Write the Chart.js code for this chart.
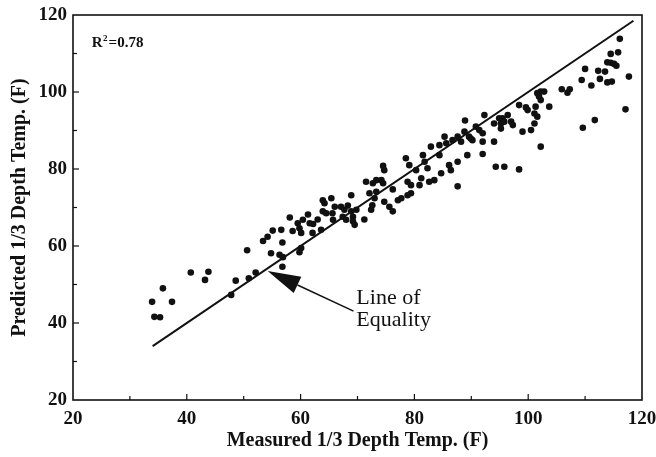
<!DOCTYPE html>
<html lang="en">
<head>
<meta charset="UTF-8">
<title>Predicted vs Measured 1/3 Depth Temperature</title>
<script src="https://cdn.jsdelivr.net/npm/chart.js"></script>
<style>
  html, body { margin: 0; padding: 0; background: #fff; }
  .chart-wrapper { width: 656px; height: 457px; }
</style>
</head>
<body>
<div class="chart-wrapper"><canvas id="tempChart"></canvas></div>
<script>
// measured vs predicted temperature at 1/3 depth (F)
const measured = [
  33.9, 35.8, 37.4, 34.3, 35.3, 40.7, 43.8, 43.2, 47.8, 48.6,
  50.9, 52.1, 50.6, 53.4, 54.2, 54.8, 56.8, 56.3, 56.9, 56.8,
  55.1, 56.6, 60.1, 59.8, 58.6, 60.1, 62.1, 58.1, 59.5, 59.8,
  60.4, 61.3, 61.6, 62.2, 63.0, 63.9, 64.2, 65.4, 63.9, 64.5,
  65.6, 66.0, 65.7, 63.6, 67.1, 67.7, 68.3, 68.9, 69.2, 69.8,
  68.9, 67.4, 68.0, 69.2, 69.5, 71.2, 71.5, 72.1, 73.3, 73.0,
  72.4, 72.7, 73.3, 74.2, 74.5, 74.5, 74.7, 72.6, 74.7, 75.6,
  76.2, 77.1, 77.7, 78.8, 79.4, 76.2, 78.8, 79.4, 78.5, 79.1,
  80.3, 81.2, 80.9, 81.5, 81.8, 82.9, 82.3, 82.6, 83.5, 84.4,
  84.7, 84.4, 85.3, 85.6, 86.1, 86.4, 86.7, 87.6, 88.2, 87.6,
  89.3, 87.6, 88.8, 89.6, 90.2, 88.9, 92.3, 90.8, 91.4, 92.0,
  89.9, 92.0, 94.0, 92.0, 94.0, 94.9, 95.2, 95.5, 95.8, 95.2,
  96.4, 97.0, 97.3, 98.4, 99.0, 100.5, 99.9, 99.6, 101.1, 101.3,
  101.6, 101.1, 101.6, 102.2, 101.9, 102.8, 102.2, 103.7, 102.2, 94.3,
  95.8, 98.4, 116.1, 114.5, 115.8, 113.9, 114.5, 115.1, 115.5, 110.0,
  112.3, 113.5, 112.6, 109.4, 111.1, 113.9, 114.7, 117.7, 105.9, 106.9,
  107.3, 117.1, 111.7, 109.6
];
const predicted = [
  45.5, 49.0, 45.5, 41.6, 41.5, 53.1, 53.3, 51.2, 47.3, 51.0,
  51.6, 53.1, 58.9, 61.3, 62.4, 58.1, 60.9, 57.7, 57.1, 54.6,
  64.0, 64.2, 59.5, 58.4, 63.9, 63.4, 63.4, 67.4, 65.9, 64.6,
  66.8, 68.2, 65.9, 65.7, 66.9, 71.9, 71.1, 72.4, 69.0, 68.5,
  68.5, 70.2, 66.8, 64.2, 70.2, 69.4, 70.5, 69.0, 67.6, 69.4,
  73.2, 67.6, 66.8, 66.4, 65.5, 66.9, 76.7, 73.7, 74.1, 72.4,
  69.4, 76.3, 77.1, 77.1, 76.3, 80.8, 79.7, 70.6, 71.5, 70.2,
  69.0, 71.9, 72.4, 73.2, 73.7, 74.7, 76.7, 75.8, 82.8, 81.0,
  79.7, 77.6, 75.8, 83.6, 81.9, 85.8, 80.2, 76.7, 77.1, 83.6,
  78.9, 86.2, 88.4, 86.7, 81.0, 79.7, 87.5, 88.4, 87.1, 81.9,
  83.6, 75.5, 89.7, 88.4, 87.5, 92.6, 94.0, 91.0, 90.1, 89.3,
  87.9, 87.1, 87.1, 83.9, 91.8, 93.2, 91.8, 93.2, 92.3, 90.5,
  94.0, 92.3, 91.4, 96.6, 89.7, 90.1, 95.3, 96.0, 94.4, 96.2,
  93.6, 91.8, 99.7, 100.1, 98.8, 100.1, 97.9, 96.2, 85.8, 80.6,
  80.6, 79.9, 113.8, 109.9, 110.3, 107.7, 107.6, 107.3, 106.8, 106.0,
  105.5, 105.3, 103.4, 103.1, 101.7, 102.5, 102.7, 104.0, 100.7, 99.8,
  100.7, 95.5, 92.7, 90.7
];

// line of equality end points (x = y)
const equalityLine = [34, 118.5];

const axisMin = 20;
const axisMax = 120;
const labelStep = 20;
const tickStep = 10;

const equalityLabel = ['Line of', 'Equality'];

const serif = '"Liberation Serif", "Times New Roman", serif';

// frame, inward tick marks and the text/arrow notes
const notesPlugin = {
  id: 'notes',
  afterDatasetsDraw(chart) {
    const { ctx, chartArea: a, scales: { x, y } } = chart;
    ctx.save();
    ctx.strokeStyle = '#111';
    ctx.lineWidth = 1.6;
    ctx.strokeRect(a.left, a.top, a.right - a.left, a.bottom - a.top);

    ctx.lineWidth = 1.2;
    for (let v = axisMin + tickStep; v < axisMax; v += tickStep) {
      const len = v % labelStep === 0 ? 6 : 4;
      const px = x.getPixelForValue(v);
      ctx.beginPath();
      ctx.moveTo(px, a.bottom);
      ctx.lineTo(px, a.bottom - len);
      ctx.stroke();
      const py = y.getPixelForValue(v);
      ctx.beginPath();
      ctx.moveTo(a.left, py);
      ctx.lineTo(a.left + len, py);
      ctx.stroke();
    }

    // R squared
    ctx.fillStyle = '#111';
    ctx.font = 'bold 15px ' + serif;
    ctx.textBaseline = 'alphabetic';
    ctx.textAlign = 'left';
    const rx = x.getPixelForValue(23.3);
    const ry = y.getPixelForValue(111.8);
    ctx.fillText('R', rx, ry);
    const rw = ctx.measureText('R').width;
    ctx.font = 'bold 9px ' + serif;
    ctx.fillText('2', rx + rw + 0.5, ry - 6);
    ctx.font = 'bold 15px ' + serif;
    ctx.fillText('=0.78', rx + rw + 6, ry);

    // arrow pointing at the equality line
    const tipX = x.getPixelForValue(54.2), tipY = y.getPixelForValue(53.5);
    const tailX = x.getPixelForValue(69.3), tailY = y.getPixelForValue(43.1);
    const ang = Math.atan2(tailY - tipY, tailX - tipX);
    const headLen = 33, headHalf = 9;
    const bx = tipX + Math.cos(ang) * headLen, by = tipY + Math.sin(ang) * headLen;
    ctx.lineWidth = 1.5;
    ctx.beginPath();
    ctx.moveTo(bx, by);
    ctx.lineTo(tailX, tailY);
    ctx.stroke();
    ctx.beginPath();
    ctx.moveTo(tipX, tipY);
    ctx.lineTo(bx - Math.sin(ang) * headHalf, by + Math.cos(ang) * headHalf);
    ctx.lineTo(bx + Math.sin(ang) * headHalf, by - Math.cos(ang) * headHalf);
    ctx.closePath();
    ctx.fill();

    ctx.font = '22px ' + serif;
    const lx = x.getPixelForValue(69.8);
    ctx.fillText(equalityLabel[0], lx, y.getPixelForValue(44.9));
    ctx.fillText(equalityLabel[1], lx, y.getPixelForValue(39.2));
    ctx.restore();
  }
};

const points = measured.map((m, i) => ({ x: m, y: predicted[i] }));
const lineData = equalityLine.map(v => ({ x: v, y: v }));

new Chart(document.getElementById('tempChart'), {
  type: 'scatter',
  data: {
    datasets: [
      {
        data: points,
        backgroundColor: '#111',
        borderWidth: 0,
        pointRadius: 3.3
      },
      {
        data: lineData,
        showLine: true,
        borderColor: '#111',
        borderWidth: 2,
        pointRadius: 0
      }
    ]
  },
  options: {
    responsive: true,
    maintainAspectRatio: false,
    animation: false,
    layout: { padding: { top: 15, right: 14, left: 0, bottom: 0 } },
    plugins: { legend: { display: false }, tooltip: { enabled: false } },
    scales: {
      x: {
        type: 'linear',
        min: axisMin,
        max: axisMax,
        afterFit(scale) {
          scale.height = 57;
          scale.paddingLeft = 0;
          scale.paddingRight = 0;
        },
        grid: { display: false, drawTicks: false },
        border: { display: false },
        ticks: {
          stepSize: labelStep,
          maxRotation: 0,
          padding: 8,
          color: '#111',
          font: { family: serif, size: 19, weight: 'bold' }
        },
        title: {
          display: true,
          text: 'Measured 1/3 Depth Temp. (F)',
          color: '#111',
          padding: { top: 0, bottom: 4 },
          font: { family: serif, size: 20, weight: 'bold' }
        }
      },
      y: {
        type: 'linear',
        min: axisMin,
        max: axisMax,
        afterFit(scale) {
          scale.width = 73;
          scale.paddingTop = 0;
          scale.paddingBottom = 0;
        },
        grid: { display: false, drawTicks: false },
        border: { display: false },
        ticks: {
          stepSize: labelStep,
          padding: 6,
          color: '#111',
          font: { family: serif, size: 19, weight: 'bold' }
        },
        title: {
          display: true,
          text: 'Predicted 1/3 Depth Temp. (F)',
          color: '#111',
          padding: { top: 8, bottom: 0 },
          font: { family: serif, size: 20, weight: 'bold' }
        }
      }
    }
  },
  plugins: [notesPlugin]
});
</script>
</body>
</html>
